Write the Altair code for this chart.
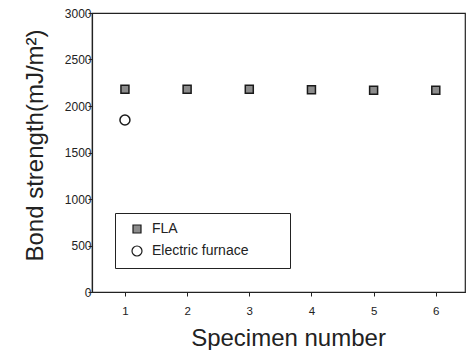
import altair as alt
import pandas as pd

specimen = [1, 2, 3, 4, 5, 6]
fla = [2180, 2180, 2180, 2175, 2170, 2170]
furnace_x = [1]
furnace = [1850]
series_names = ["FLA", "Electric furnace"]
y_ticks = [0, 500, 1000, 1500, 2000, 2500, 3000]

rows = [{"Specimen": s, "Strength": v, "Method": "FLA"} for s, v in zip(specimen, fla)]
rows += [{"Specimen": s, "Strength": v, "Method": "Electric furnace"} for s, v in zip(furnace_x, furnace)]
df = pd.DataFrame(rows)

FONT = "Liberation Sans"

legend = alt.Legend(
    title="WWW", titleOrient="right", titleOpacity=0, titleFontSize=10, titlePadding=4,
    orient="none", legendX=23, legendY=200,
    strokeColor="#222", fillColor="white", padding=9, rowPadding=7, symbolOffset=6,
    labelFont=FONT, labelFontSize=14, labelColor="#222", labelOffset=8,
    symbolStrokeWidth=1.2,
)

chart = alt.Chart(df).mark_point(strokeWidth=1.5, opacity=1, stroke="#1a1a1a").encode(
    x=alt.X("Specimen:Q", scale=alt.Scale(domain=[0.47, 6.47], nice=False, zero=False),
            axis=alt.Axis(values=specimen, title="Specimen number", format="d",
                          titleFontSize=24, titleFontWeight="normal", titleColor="#222",
                          titlePadding=10, titleX=196, labelFontSize=11.5, labelPadding=9,
                          tickSize=4, labelColor="#222", grid=False)),
    y=alt.Y("Strength:Q", scale=alt.Scale(domain=[0, 3000], nice=False),
            axis=alt.Axis(values=y_ticks, format="d",
                          title="Bond strength(mJ/m\u00b2)",
                          titleFontSize=24, titleFontWeight="normal", titleColor="#222",
                          titlePadding=17, titleY=132, labelFontSize=12, labelPadding=-3,
                          tickSize=4, labelColor="#222", grid=False)),
    shape=alt.Shape("Method:N", scale=alt.Scale(domain=series_names, range=["square", "circle"]), legend=legend),
    fill=alt.Fill("Method:N", scale=alt.Scale(domain=series_names, range=["#8c8c8c", "transparent"]), legend=legend),
    size=alt.Size("Method:N", scale=alt.Scale(domain=series_names, range=[64, 100]), legend=legend),
).properties(
    width=373, height=279,
    autosize=alt.AutoSizeParams(type="none"),
    padding={"left": 84, "top": 5, "right": 1, "bottom": 58},
).configure_view(
    stroke="#222", strokeWidth=1.2
).configure_axis(
    domainColor="#222", tickColor="#222", labelFont=FONT, titleFont=FONT, domainWidth=1.2
)

chart.save("out.html", embed_options={"renderer": "svg", "actions": False})
